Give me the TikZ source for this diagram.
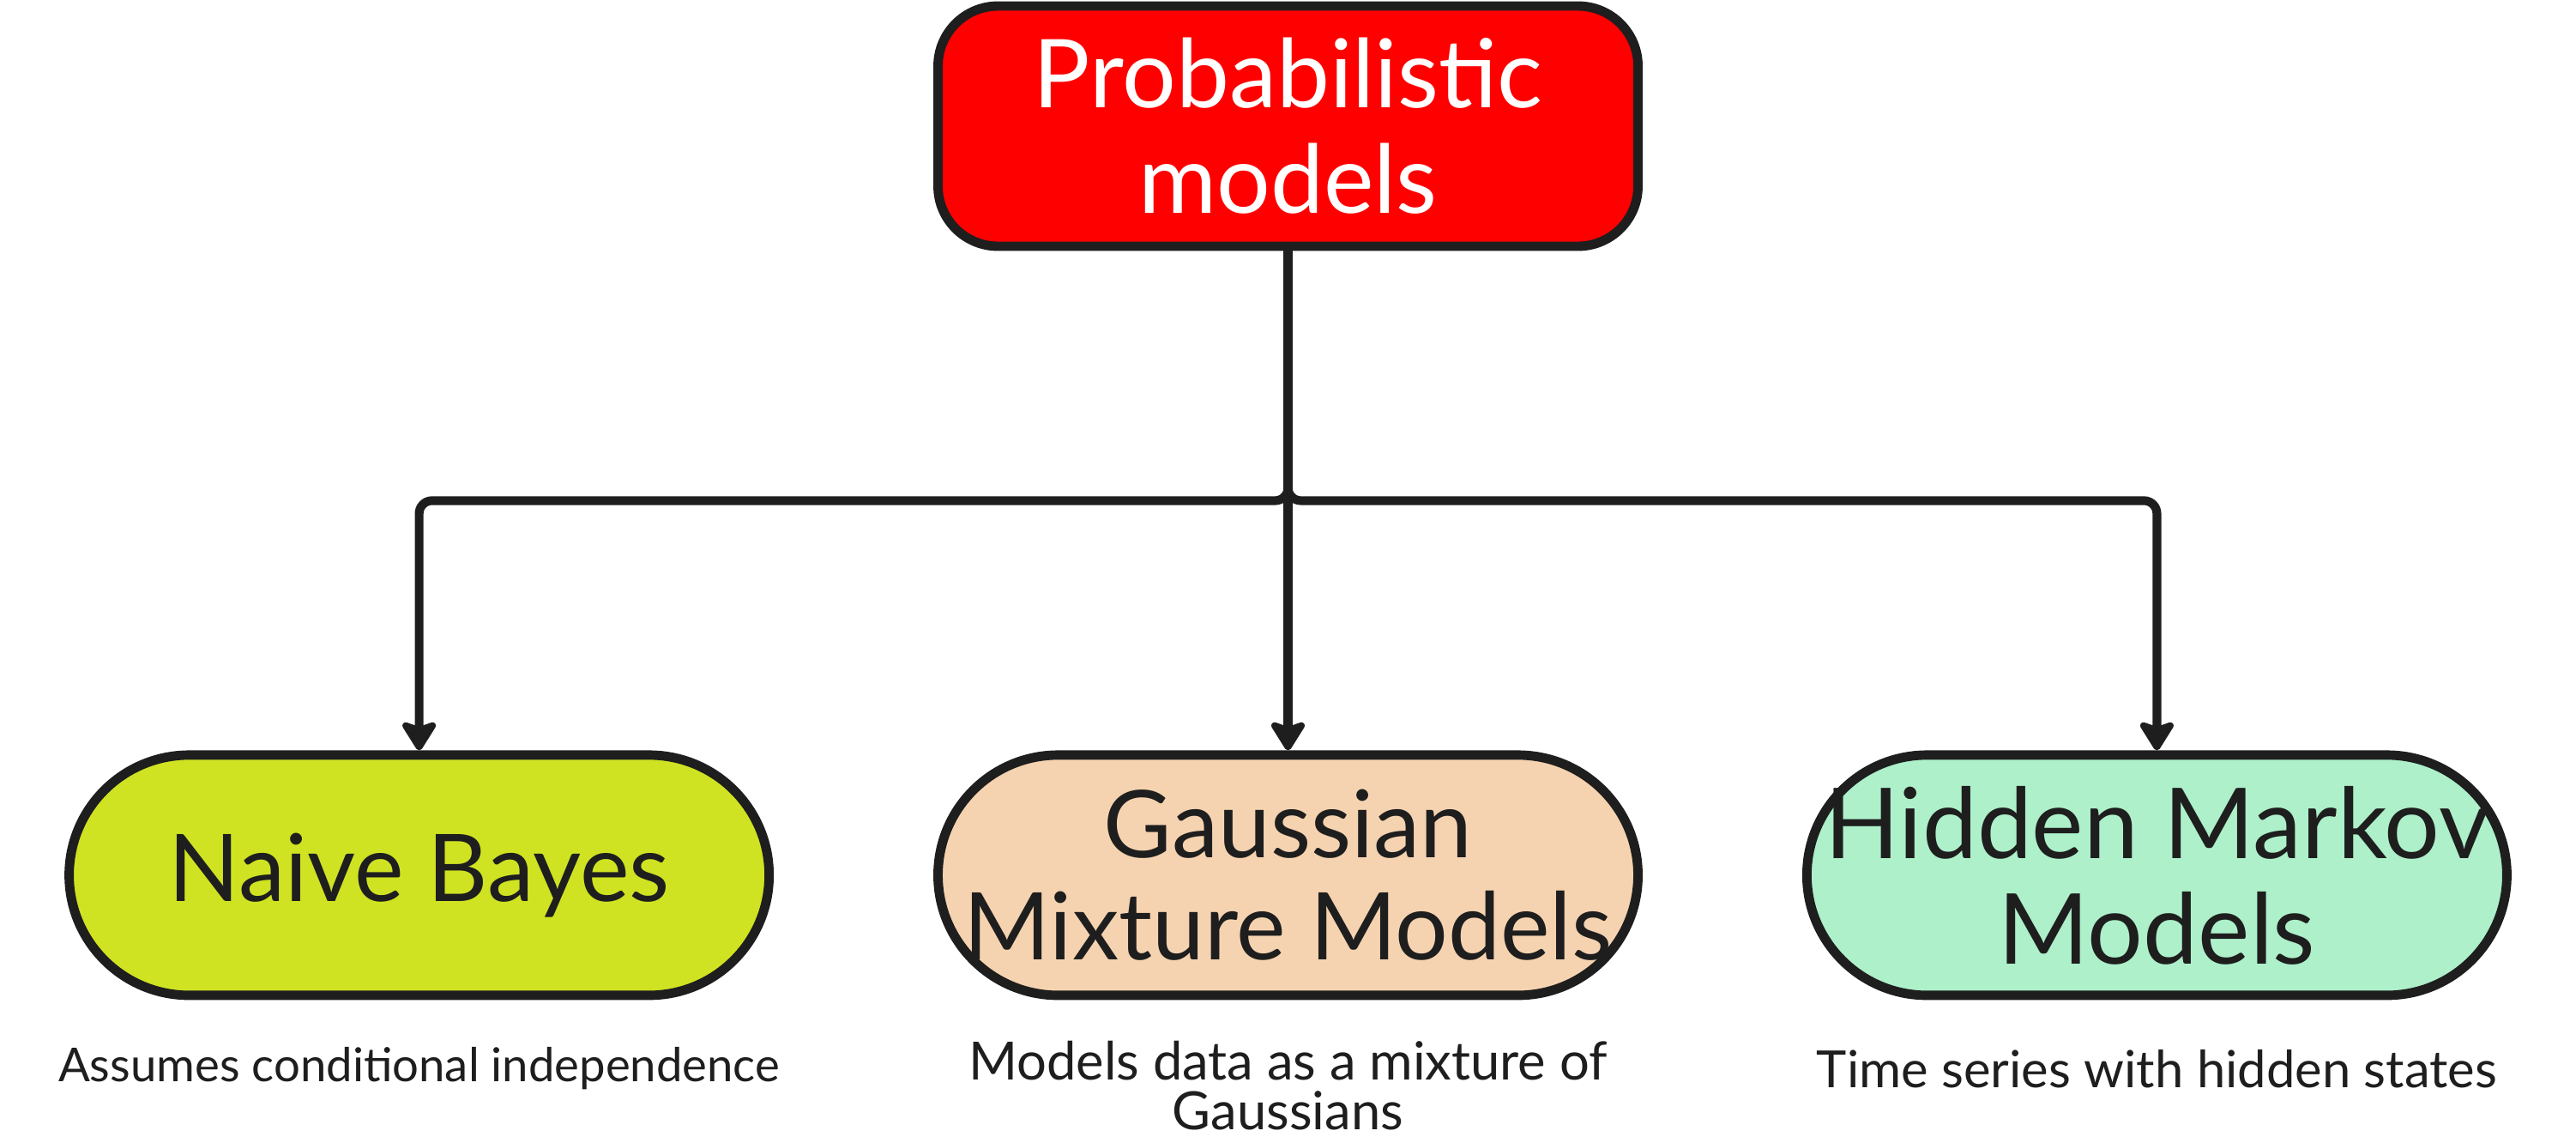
\documentclass[tikz,border=0pt]{standalone}
\usepackage{fontspec}
\setmainfont{Lato}
\usepackage{xcolor}
\usetikzlibrary{arrows.meta,positioning}
\definecolor{ink}{HTML}{1E1E1E}
\definecolor{nbfill}{HTML}{CFE322}
\definecolor{gmmfill}{HTML}{F6D3B0}
\definecolor{hmmfill}{HTML}{ADF0C9}
\tikzstyle{arrow}=[-{Stealth[length=3.9mm, width=4.8mm, inset=0.8mm, round]},
  line width=2.9pt, draw=ink, rounded corners=1.5mm]

\begin{document}
\begin{tikzpicture}[
  node distance=5.82cm and 1.86cm,
  head/.style={draw=ink, line width=3.1pt, fill=red, rounded corners=7mm, align=center,
               minimum width=8.16cm, minimum height=2.8cm, text=white,
               font=\fontsize{31.5}{35}\selectfont},
  leaf/.style={draw=ink, line width=3.1pt, rounded corners=1.4cm, align=center,
               inner sep=0pt, minimum width=8.16cm, minimum height=2.8cm, text=ink,
               font=\fontsize{31}{34}\selectfont},
  note/.style={align=center, text=ink, anchor=center, font=\fontsize{16.5}{16.5}\selectfont}]
\useasboundingbox (0,0) rectangle (30.03,-13.31);
\node[head] (top) at (15.015,-1.47) {Probabilistic\\models};
\node[leaf, fill=gmmfill, below=of top] (gmm) {Gaussian\\Mixture Models};
\node[leaf, fill=nbfill, left=of gmm] (nb) {Naive Bayes};
\node[leaf, fill=hmmfill, right=of gmm, font=\fontsize{32.5}{35}\selectfont] (hmm) {Hidden Markov\\Models};
\node[below=0.8cm of nb.south, note, font=\fontsize{15.5}{16}\selectfont] (nbnote) {Assumes conditional independence};
\node[below=1.0cm of gmm.south, note, font=\fontsize{17.5}{16.5}\selectfont] (gmmnote) {Models data as a mixture of\\Gaussians};
\node[below=0.8cm of hmm.south, note, font=\fontsize{17}{16.5}\selectfont] (hmmnote) {Time series with hidden states};
\coordinate[below=2.91cm of top.south] (fork);
\draw[arrow] (top.south) -- (gmm.north);
\draw[arrow] (top.south) -- (fork) -| (nb.north);
\draw[arrow] (top.south) -- (fork) -| (hmm.north);
\end{tikzpicture}
\end{document}
